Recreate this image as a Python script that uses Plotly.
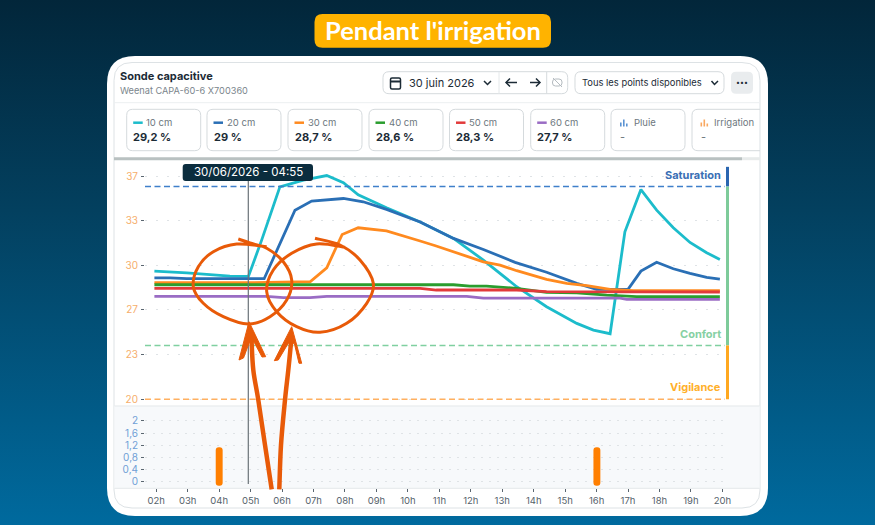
import plotly.graph_objects as go

# Step 1: Values (hour of day, soil moisture %)
hours_10 = [1.94, 2.97, 4.34, 4.93, 5.35, 5.93, 6.68, 7.42, 7.95, 8.42, 9.32, 10.39, 11.45, 12.40, 13.46, 14.41, 15.37, 15.90, 16.43, 16.90, 17.41, 17.91, 18.44, 18.97, 19.50, 19.92]
moisture_10 = [29.76, 29.63, 29.38, 29.36, 32.12, 36.18, 36.69, 37.04, 36.49, 35.57, 34.58, 33.50, 32.25, 30.60, 28.57, 27.05, 25.78, 25.27, 24.99, 32.75, 35.97, 34.40, 33.06, 31.94, 31.16, 30.65]
hours_20 = [1.94, 2.44, 2.97, 4.93, 5.43, 6.41, 6.94, 7.95, 8.58, 9.32, 10.39, 11.45, 12.40, 13.41, 14.41, 15.37, 16.00, 17.00, 17.41, 17.91, 18.44, 18.97, 19.50, 19.92]
moisture_20 = [29.25, 29.25, 29.18, 29.18, 29.18, 34.40, 35.09, 35.29, 35.04, 34.46, 33.50, 32.25, 31.41, 30.43, 29.67, 28.83, 28.37, 28.37, 29.76, 30.44, 29.94, 29.58, 29.28, 29.15]
hours_30 = [1.94, 4.93, 6.89, 7.42, 7.91, 8.42, 9.32, 10.06, 10.39, 10.90, 11.45, 12.40, 12.93, 13.46, 14.41, 15.05, 15.69, 16.43, 17.17, 19.92]
moisture_30 = [28.88, 28.88, 28.95, 30.01, 32.55, 33.06, 32.83, 32.25, 32.05, 31.67, 31.23, 30.47, 30.22, 29.79, 29.13, 28.83, 28.65, 28.37, 28.27, 28.27]
hours_40 = [1.94, 11.45, 11.97, 12.50, 13.46, 14.41, 15.37, 16.32, 17.27, 19.92]
moisture_40 = [28.72, 28.72, 28.62, 28.62, 28.44, 28.14, 28.11, 27.93, 27.81, 27.81]
hours_50 = [1.94, 10.39, 10.90, 13.46, 14.41, 16.32, 17.17, 19.92]
moisture_50 = [28.44, 28.44, 28.32, 28.32, 28.19, 28.19, 28.17, 28.17]
hours_60 = [1.94, 5.50, 6.04, 6.89, 7.42, 11.87, 12.40, 16.75, 16.96, 19.92]
moisture_60 = [27.84, 27.84, 27.74, 27.74, 27.84, 27.84, 27.71, 27.71, 27.60, 27.60]

irrigation_hours = [4.0, 16.01]
irrigation_mm = [1.13, 1.13]

saturation = 36.2
confort = 24.1
vigilance = 20

moisture_ticks = [20, 23.4, 26.8, 30.2, 33.6, 37]
moisture_labels = ["20", "23", "27", "30", "33", "37"]
mm_ticks = [0, 0.4, 0.8, 1.2, 1.6, 2]
mm_labels = ["0", "0,4", "0,8", "1,2", "1,6", "2"]
hour_ticks = list(range(2, 21))
hour_labels = [f"{h:02d}h" for h in hour_ticks]

card_depths = ["10 cm", "20 cm", "30 cm", "40 cm", "50 cm", "60 cm"]
card_values = ["29,2 %", "29 %", "28,7 %", "28,6 %", "28,3 %", "27,7 %"]
card_colors = ["#1cbccb", "#2a6fb5", "#ff8a1f", "#2a9d2e", "#e23a3a", "#9a6cc4"]

FONT = "Inter"
W, H = 875, 525


# Step 2: Small helpers, everything outside the axes is placed in page pixels
def pt(x, y):
    return f"{x / W:.5f},{1 - y / H:.5f}"


def rounded(x0, y0, x1, y1, r):
    return (
        f"M{pt(x0 + r, y0)} L{pt(x1 - r, y0)} Q{pt(x1, y0)} {pt(x1, y0 + r)} "
        f"L{pt(x1, y1 - r)} Q{pt(x1, y1)} {pt(x1 - r, y1)} "
        f"L{pt(x0 + r, y1)} Q{pt(x0, y1)} {pt(x0, y1 - r)} "
        f"L{pt(x0, y0 + r)} Q{pt(x0, y0)} {pt(x0 + r, y0)} Z"
    )


def smooth(points):
    # Catmull-Rom through the points, written as bezier segments
    d = "M" + pt(*points[0])
    for i in range(len(points) - 1):
        p0 = points[max(i - 1, 0)]
        p1 = points[i]
        p2 = points[i + 1]
        p3 = points[min(i + 2, len(points) - 1)]
        c1 = (p1[0] + (p2[0] - p0[0]) / 6, p1[1] + (p2[1] - p0[1]) / 6)
        c2 = (p2[0] - (p3[0] - p1[0]) / 6, p2[1] - (p3[1] - p1[1]) / 6)
        d += f" C{pt(*c1)} {pt(*c2)} {pt(*p2)}"
    return d


def poly(points):
    return "M" + " L".join(pt(*p) for p in points)


shapes = []
annotations = []


def shape(path, fill=None, line=None, width=1, layer="below"):
    shapes.append(dict(
        type="path", path=path, xref="paper", yref="paper", layer=layer,
        fillcolor=fill if fill else "rgba(0,0,0,0)",
        line=dict(color=line if line else "rgba(0,0,0,0)", width=width if line else 0),
    ))


def label(x, y, text, size, color, bold=False, anchor="left"):
    # annotations keep a small padding around the text, shift it back
    shift = {"left": -2, "right": 2, "center": 0}[anchor]
    annotations.append(dict(
        x=x / W, y=1 - y / H, xref="paper", yref="paper", showarrow=False, xshift=shift,
        xanchor=anchor, yanchor="middle", text=f"<b>{text}</b>" if bold else text,
        font=dict(family=FONT, size=size, color=color),
    ))


# Step 3: Panel, header and cards
shape(rounded(107, 56, 768, 516, 28), fill="#ffffff")
shape(rounded(114, 62.5, 760, 508, 18), fill="#ffffff", line="#dde2e5", width=1)
shape(rounded(314.5, 14, 551, 47.7, 8), fill="#ffb300")
label(432.5, 29.5, "Pendant l'irrigation", 25.5, "#ffffff", bold=True, anchor="center")
annotations[-1]["font"]["family"] = "Lato"

label(120, 76, "Sonde capacitive", 11, "#1c2b36", bold=True)
label(120, 90, "Weenat CAPA-60-6 X700360", 9.2, "#7b858c")

shape(poly([(114, 102.7), (760, 102.7)]), line="#eceff1")
shape(rounded(383, 71.7, 567.7, 93.7, 6), fill="#ffffff", line="#d5dadd")
shape(poly([(499, 72), (499, 93.5)]), line="#e4e8ea")
shape(poly([(546.7, 72), (546.7, 93.5)]), line="#d5dadd")
shape(rounded(390.5, 78, 400.5, 89, 1.5), line="#1c2b36", width=1.5)
shape(poly([(390.5, 81.5), (400.5, 81.5)]), line="#1c2b36", width=2)
label(408.5, 83, "30 juin 2026", 11, "#1c2b36")
shape(poly([(484, 81), (487.5, 84.5), (491, 81)]), line="#1c2b36", width=1.5)
shape(poly([(517, 82.5), (506, 82.5)]), line="#1c2b36", width=1.5)
shape(poly([(510, 78.5), (506, 82.5), (510, 86.5)]), line="#1c2b36", width=1.5)
shape(poly([(530, 82.5), (540, 82.5)]), line="#1c2b36", width=1.5)
shape(poly([(536, 78.5), (540, 82.5), (536, 86.5)]), line="#1c2b36", width=1.5)
shape(rounded(552.5, 79, 562, 86, 3), line="#b4bbc0", width=1)
shape(poly([(553, 78), (562, 87)]), line="#b4bbc0", width=1)

shape(rounded(575, 71.7, 724, 93.7, 6), fill="#ffffff", line="#d5dadd")
label(581.5, 83, "Tous les points disponibles", 9.4, "#1c2b36")
shape(poly([(711.5, 81), (714.5, 84.5), (718, 81)]), line="#1c2b36", width=1.5)
shape(rounded(731, 71.7, 753, 93.7, 5), fill="#e9ecee")
label(742, 82.5, "•••", 7, "#1c2b36", anchor="center")

card_lefts = [126.7, 207, 288, 369, 449.5, 530.7]
for left, depth, value, color in zip(card_lefts, card_depths, card_values, card_colors):
    shape(rounded(left, 109.3, left + 74, 150.7, 6), fill="#ffffff", line="#d5dadd")
    shape(poly([(left + 6.5, 122.7), (left + 16, 122.7)]), line=color, width=2.5)
    label(left + 19.5, 122.7, depth, 9.5, "#6d777e")
    label(left + 6.5, 137, value, 11, "#1c2b36", bold=True)

shape(rounded(611, 109.3, 685, 150.7, 6), fill="#ffffff", line="#d5dadd")
shape("M" + pt(760, 109.3) + " L" + pt(698, 109.3) + " Q" + pt(692, 109.3) + " " + pt(692, 115.3)
      + " L" + pt(692, 144.7) + " Q" + pt(692, 150.7) + " " + pt(698, 150.7) + " L" + pt(760, 150.7),
      line="#d5dadd")
for left, color, name in [(620, "#5b93d3", "Pluie"), (700.5, "#f9a860", "Irrigation")]:
    shape(poly([(left + 0.8, 126.5), (left + 0.8, 122.5)]), line=color, width=1.6)
    shape(poly([(left + 3.8, 126.5), (left + 3.8, 119.5)]), line=color, width=1.6)
    shape(poly([(left + 6.8, 126.5), (left + 6.8, 123.5)]), line=color, width=1.6)
    label(left + 13.5, 122.7, name, 9.5, "#6d777e")
    label(left, 137, "-", 11, "#6d777e")

shape(poly([(114, 158.7), (742, 158.7)]), line="#b9c1c1", width=3)
shape(poly([(742, 158.7), (760, 158.7)]), line="#e8ebeb", width=3)

# Lower strip behind the irrigation bars
shape(f"M{pt(114.5, 406)} L{pt(759.5, 406)} L{pt(759.5, 488.3)} L{pt(114.5, 488.3)} Z",
      fill="#f7f9fb")
shape(poly([(114.5, 406), (759.5, 406)]), line="#e4e8ea")
shape(poly([(114.5, 488.3), (759.5, 488.3)]), line="#e4e8ea")

# Step 4: Curves
fig = go.Figure()
for hours, values, color in [
    (hours_10, moisture_10, card_colors[0]),
    (hours_20, moisture_20, card_colors[1]),
    (hours_30, moisture_30, card_colors[2]),
    (hours_40, moisture_40, card_colors[3]),
    (hours_50, moisture_50, card_colors[4]),
    (hours_60, moisture_60, card_colors[5]),
]:
    fig.add_trace(go.Scatter(x=hours, y=values, mode="lines", xaxis="x", yaxis="y",
                             line=dict(color=color, width=2.8), hoverinfo="skip"))

x_range = [1.641, 20.083]
for value, color in [(saturation, "#3f7fca"), (confort, "#7fd0a0"), (vigilance, "#ffb060")]:
    fig.add_trace(go.Scatter(x=x_range, y=[value, value], mode="lines", xaxis="x", yaxis="y",
                             line=dict(color=color, width=1.5, dash="6px,3.5px"), hoverinfo="skip"))

fig.add_trace(go.Bar(x=irrigation_hours, y=[v + 0.13 for v in irrigation_mm], base=-0.13, width=0.22,
                     xaxis="x2", yaxis="y2", marker=dict(color="#ff7f00", cornerradius=3, line_width=0),
                     hoverinfo="skip"))

# Threshold bar on the right side
for low, high, color in [(saturation, 37.7, "#2a66b0"), (confort, saturation, "#7ecb9a"), (vigilance, confort, "#ffa820")]:
    shapes.append(dict(type="rect", xref="paper", yref="y", x0=726 / W, x1=729 / W, y0=low, y1=high,
                       fillcolor=color, line_width=0, layer="above"))
label(721, 175, "Saturation", 11, "#3a6fb5", bold=True, anchor="right")
label(721, 334, "Confort", 11, "#86d0a3", bold=True, anchor="right")
label(721, 386.5, "Vigilance", 11, "#ffb02a", bold=True, anchor="right")

# Cursor and its tooltip
shape(poly([(248.3, 172), (248.3, 484)]), line="#6a7278", width=1.2, layer="above")
shape(rounded(182.7, 164, 313, 181, 3), fill="#0b2d3e", layer="above")
label(248, 172.5, "30/06/2026 - 04:55", 11.5, "#ffffff", anchor="center")

# Step 5: Hand drawn circles and arrows on top
pen = "#e85a08"
shape(smooth([(238.3, 239), (250, 243), (266.7, 248.3), (283.3, 261.7), (291.7, 280), (286.7, 300),
              (270, 316.7), (248.3, 324), (223.3, 316.7), (203.3, 303.3), (193.3, 286.7), (198.3, 266.7),
              (213.3, 251.7), (236.7, 244), (266.7, 246.7)]), line=pen, width=3, layer="above")
shape(smooth([(315, 238.3), (340, 245), (360, 260), (373.3, 283.3), (366.7, 303.3), (346.7, 323.3),
              (320, 332.3), (296.7, 326.7), (276.7, 311.7), (266.7, 291.7), (273.3, 270), (291.7, 253.3),
              (316.7, 244), (345, 247.3)]), line=pen, width=3, layer="above")
shape(smooth([(271.7, 489.3), (265, 445), (258.3, 400), (253.3, 370), (251.5, 340)]), line=pen, width=4.5, layer="above")
shape(smooth([(279.3, 489.3), (281, 445), (285, 400), (288.3, 370), (291.3, 340)]), line=pen, width=4.5, layer="above")
shape(poly([(249, 321.7), (239, 360), (243.5, 358), (249.5, 342), (254, 342), (262, 357), (265.7, 356.7)]) + " Z",
      fill=pen, line=pen, width=1, layer="above")
shape(poly([(291.7, 326.7), (274.3, 360.7), (278.3, 360), (288.3, 343.3), (294.3, 343.3), (299, 363.3), (301.7, 363.3)]) + " Z",
      fill=pen, line=pen, width=1, layer="above")

# Step 6: Layout
fig.update_layout(
    width=W,
    height=H,
    margin=dict(l=0, r=0, t=0, b=0, autoexpand=False),
    paper_bgcolor="rgba(0,0,0,0)",
    plot_bgcolor="rgba(0,0,0,0)",
    showlegend=False,
    shapes=shapes,
    annotations=annotations,
    font=dict(family=FONT),
    xaxis=dict(domain=[145 / W, 725 / W], range=x_range, anchor="y", showticklabels=False,
               showgrid=False, zeroline=False, ticks=""),
    yaxis=dict(domain=[1 - 404 / H, 1 - 165 / H], range=[19.64, 37.84], anchor="x",
               tickvals=moisture_ticks, ticktext=moisture_labels, ticks="outside", ticklen=3,
               tickcolor="#5a6670", tickfont=dict(size=10, color="#f6ae6b", family=FONT),
               showgrid=True, gridcolor="#dfe3e6", griddash="2px,9px", gridwidth=1,
               zeroline=False, ticklabelstandoff=1),
    xaxis2=dict(domain=[145 / W, 725 / W], range=x_range, anchor="y2", tickvals=hour_ticks,
                ticktext=hour_labels, ticks="outside", ticklen=3, tickcolor="#5a6670",
                tickfont=dict(size=9.5, color="#56626b", family=FONT), showgrid=False, zeroline=False),
    yaxis2=dict(domain=[1 - 488.3 / H, 1 - 414 / H], range=[-0.218, 2.228], anchor="x2",
                tickvals=mm_ticks, ticktext=mm_labels, ticks="outside", ticklen=3, tickcolor="#5a6670",
                tickfont=dict(size=10, color="#6f9fd6", family=FONT), showgrid=True,
                gridcolor="#dfe3e6", griddash="2px,6px", gridwidth=1, zeroline=False,
                ticklabelstandoff=1),
)

# Step 7: Write the page, the dark gradient sits behind the transparent figure
page_css = (
    "var s=document.createElement('style');"
    "s.textContent='html,body{margin:0;padding:0;width:875px;height:525px;overflow:hidden;"
    "background:linear-gradient(180deg,#02263a 0%,#03405f 40%,#006a9e 100%)}"
    ".plotly-graph-div,.svg-container{display:block}';"
    "document.head.appendChild(s);"
)
fig.write_html("out.html", config={"displayModeBar": False}, post_script=page_css)
